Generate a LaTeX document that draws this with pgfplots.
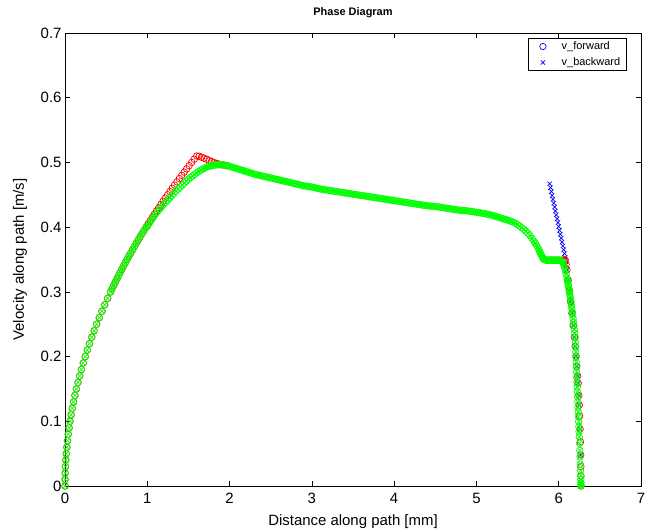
\documentclass[border=0pt]{standalone}
\usepackage{fontspec}
\setmainfont{Liberation Sans}
\usepackage{pgfplots}
\pgfplotsset{compat=1.18}
\usepackage{pgfplotstable}

\pgfplotstableread{
s v
0 0
0.0006 0.01
0.0025 0.02
0.0055 0.03
0.0099 0.04
0.0154 0.05
0.0222 0.06
0.0302 0.07
0.0394 0.08
0.0499 0.09
0.0616 0.10
0.0745 0.11
0.0887 0.12
0.1041 0.13
0.1207 0.14
0.1385 0.15
0.1576 0.16
0.1780 0.17
0.1995 0.18
0.2223 0.19
0.2463 0.20
0.2716 0.21
0.2980 0.22
0.3257 0.23
0.3547 0.24
0.3849 0.25
0.4163 0.26
0.4489 0.27
0.4828 0.28
0.5179 0.29
0.5542 0.30
0.5728 0.305
0.5918 0.31
0.6110 0.315
0.6305 0.32
0.6504 0.325
0.6706 0.33
0.6910 0.335
0.7118 0.34
0.7329 0.345
0.7543 0.35
0.7760 0.355
0.7980 0.36
0.8203 0.365
0.8430 0.37
0.8659 0.375
0.8892 0.38
0.9127 0.385
0.9366 0.39
0.9607 0.395
0.9852 0.40
}\risetab

\pgfplotstableread{
s v
1.0100 0.405
1.0351 0.41
1.0605 0.415
1.0862 0.42
1.1122 0.425
1.1386 0.43
1.1652 0.435
1.1921 0.44
1.2194 0.445
1.2469 0.45
1.2748 0.455
1.3030 0.46
1.3314 0.465
1.3602 0.47
1.3893 0.475
1.4187 0.48
1.4484 0.485
1.4784 0.49
1.5088 0.495
1.5394 0.50
1.5704 0.505
1.6016 0.51
1.63 0.5095
1.66 0.508
1.69 0.5065
1.72 0.505
1.75 0.503
1.78 0.5015
1.81 0.500
1.84 0.4985
1.87 0.4975
1.90 0.4965
1.93 0.496
1.96 0.495
5.85 0.349
5.88 0.349
5.91 0.349
5.94 0.349
5.97 0.349
6.00 0.349
6.03 0.349
6.05 0.349
6.07 0.349
6.08 0.349
6.09 0.342
6.10 0.334
6.115 0.318
6.13 0.302
6.145 0.285
6.16 0.267
6.175 0.248
6.19 0.230
6.20 0.216
6.21 0.201
6.22 0.185
6.23 0.170
6.237 0.159
6.245 0.140
6.25 0.125
6.255 0.108
6.26 0.088
6.264 0.068
6.267 0.048
6.269 0.030
6.27 0.015
6.27 0
}\redtab

\pgfplotstableread{
s v
5.89 0.467
5.90 0.461
5.91 0.455
5.92 0.449
5.93 0.443
5.94 0.437
5.95 0.431
5.96 0.425
5.97 0.419
5.98 0.413
5.99 0.407
6.00 0.401
6.01 0.395
6.02 0.389
6.03 0.383
6.04 0.377
6.05 0.371
6.06 0.365
6.07 0.359
6.08 0.353
6.09 0.342
6.10 0.334
6.115 0.318
6.13 0.302
6.145 0.285
6.16 0.267
6.175 0.248
6.19 0.230
6.20 0.216
6.21 0.201
6.22 0.185
6.23 0.170
6.237 0.159
6.245 0.140
6.25 0.125
6.26 0.088
6.267 0.048
6.27 0
}\bluetab

\pgfplotstableread{
s v
1.000 0.401
1.025 0.406
1.050 0.411
1.075 0.4155
1.100 0.420
1.125 0.424
1.150 0.428
1.175 0.4315
1.200 0.435
1.225 0.4385
1.250 0.442
1.275 0.4455
1.300 0.449
1.325 0.4525
1.350 0.456
1.375 0.459
1.400 0.462
1.425 0.465
1.450 0.468
1.475 0.471
1.500 0.474
1.525 0.4765
1.550 0.479
1.575 0.4815
1.600 0.484
1.625 0.486
1.650 0.488
1.675 0.490
1.700 0.4915
1.725 0.493
1.750 0.494
1.775 0.495
1.800 0.4955
1.825 0.496
1.850 0.4963
1.875 0.4965
1.900 0.4963
1.925 0.496
1.950 0.4955
1.975 0.495
2.000 0.494
2.025 0.493
2.050 0.492
2.075 0.491
2.100 0.490
2.125 0.489
2.150 0.488
2.175 0.487
2.200 0.486
2.225 0.485
2.250 0.484
2.275 0.483
2.300 0.482
2.325 0.481
2.350 0.4805
2.375 0.4798
2.400 0.479
2.425 0.478
2.450 0.4775
2.475 0.4768
2.500 0.476
2.525 0.4753
2.550 0.4745
2.575 0.4738
2.600 0.473
2.625 0.4723
2.650 0.4715
2.675 0.4708
2.700 0.470
2.725 0.4693
2.750 0.4685
2.775 0.4678
2.800 0.467
2.825 0.4663
2.850 0.4655
2.875 0.4648
2.900 0.464
2.925 0.4635
2.950 0.463
2.975 0.4625
3.000 0.462
3.025 0.4613
3.050 0.4605
3.075 0.4598
3.100 0.459
3.125 0.4585
3.150 0.458
3.175 0.4575
3.200 0.457
3.225 0.4565
3.250 0.456
3.275 0.4555
3.300 0.455
3.325 0.4545
3.350 0.454
3.375 0.4535
3.400 0.453
3.425 0.4525
3.450 0.452
3.475 0.4515
3.500 0.451
3.525 0.4505
3.550 0.450
3.575 0.4495
3.600 0.449
3.625 0.4485
3.650 0.448
3.675 0.4475
3.700 0.447
3.725 0.4465
3.750 0.446
3.775 0.4455
3.800 0.445
3.825 0.4445
3.850 0.444
3.875 0.4435
3.900 0.443
3.925 0.4425
3.950 0.442
3.975 0.4415
4.000 0.441
4.025 0.4405
4.050 0.440
4.075 0.4395
4.100 0.439
4.125 0.4385
4.150 0.438
4.175 0.4375
4.200 0.437
4.225 0.4365
4.250 0.436
4.275 0.4355
4.300 0.435
4.325 0.4345
4.350 0.434
4.375 0.4335
4.400 0.433
4.425 0.4328
4.450 0.4325
4.475 0.4323
4.500 0.432
4.525 0.4315
4.550 0.431
4.575 0.4305
4.600 0.430
4.625 0.4295
4.650 0.429
4.675 0.4285
4.700 0.428
4.725 0.4275
4.750 0.427
4.775 0.4265
4.800 0.426
4.825 0.4258
4.850 0.4255
4.875 0.4253
4.900 0.425
4.925 0.4245
4.950 0.424
4.975 0.4235
5.000 0.423
5.025 0.4225
5.050 0.422
5.075 0.4215
5.100 0.421
5.125 0.4203
5.150 0.4195
5.175 0.4188
5.200 0.418
5.225 0.417
5.250 0.416
5.275 0.415
5.300 0.414
5.325 0.413
5.350 0.412
5.375 0.411
5.400 0.410
5.425 0.4088
5.450 0.4075
5.475 0.4058
5.500 0.404
5.525 0.4015
5.550 0.399
5.575 0.3965
5.600 0.394
5.625 0.3905
5.650 0.387
5.675 0.3825
5.700 0.378
5.715 0.375
5.730 0.372
5.745 0.3685
5.760 0.365
5.770 0.362
5.780 0.359
5.790 0.3565
5.800 0.354
5.810 0.352
5.820 0.350
5.835 0.3495
5.850 0.349
5.865 0.349
5.880 0.349
5.895 0.349
5.910 0.349
5.925 0.349
5.940 0.349
5.955 0.349
5.970 0.349
5.985 0.349
6.000 0.349
6.015 0.3485
6.030 0.348
6.040 0.347
6.050 0.345
6.060 0.342
6.070 0.338
6.080 0.333
6.090 0.328
6.100 0.322
6.105 0.3185
6.110 0.315
6.115 0.3115
6.120 0.308
6.125 0.304
6.130 0.300
6.135 0.296
6.140 0.292
6.145 0.2875
6.150 0.283
6.155 0.2785
6.160 0.274
6.165 0.269
6.170 0.264
6.175 0.2585
6.180 0.253
6.185 0.2475
6.190 0.242
6.195 0.236
6.2000 0.230
6.2025 0.2225
6.2050 0.215
6.2075 0.207
6.2100 0.199
6.2125 0.1915
6.2150 0.184
6.2175 0.176
6.2200 0.168
6.2225 0.1605
6.2250 0.153
6.2275 0.1455
6.2300 0.138
6.2325 0.130
6.2350 0.122
6.2375 0.1145
6.2400 0.107
6.2425 0.0995
6.2450 0.092
6.2475 0.084
6.2500 0.076
6.253 0.066
6.256 0.055
6.259 0.045
6.262 0.034
6.265 0.024
6.267 0.016
6.268 0.010
6.269 0.005
6.27 0.002
6.27 0
}\greentab

\begin{document}
\begin{tikzpicture}
\begin{axis}[
  scale only axis, width=576bp, height=453bp,
  xmin=0, xmax=7, ymin=0, ymax=0.7,
  xtick={0,1,2,3,4,5,6,7},
  ytick={0,0.1,0.2,0.3,0.4,0.5,0.6,0.7},
  yticklabels={0,0.1,0.2,0.3,0.4,0.5,0.6,0.7},
  /pgf/number format/assume math mode=true,
  tick label style={font=\fontsize{15}{18}\selectfont},
  xticklabel style={yshift=-4bp},
  major tick length=5bp,
  tick style={black, line width=0.5bp},
  axis line style={line width=0.6bp},
  clip=false,
  title={Phase Diagram},
  title style={at={(axis description cs:0.5,1.0265)}, anchor=base, font=\bfseries\fontsize{11}{13}\selectfont},
  xlabel={Distance along path [mm]},
  xlabel style={at={(axis description cs:0.5,-0.0861)}, anchor=base, font=\fontsize{15}{18}\selectfont},
  ylabel={Velocity along path [m/s]},
  ylabel style={at={(axis description cs:-0.0781,0.5)}, anchor=center, font=\fontsize{15}{18}\selectfont},
  legend style={at={(axis description cs:1,1)}, anchor=north east, xshift=-14bp, yshift=-5bp,
    draw=black, line width=0.6bp, font=\fontsize{11}{13}\selectfont,
    inner xsep=5bp, inner ysep=2bp, row sep=3.5bp, nodes={inner sep=1.5bp}},
  legend cell align=left,
  legend image code/.code={\path (0bp,0bp) (26.5bp,0bp); \draw[#1] plot coordinates {(9.5bp,0bp)};},
]
\addlegendimage{only marks, mark=o, blue, mark size=3.2bp, mark options={line width=0.7bp}}
\addlegendentry{v\_forward}
\addlegendimage{only marks, mark=x, blue, mark size=3bp, mark options={line width=0.7bp}}
\addlegendentry{v\_backward}

\addplot[forget plot, only marks, mark=x, blue, mark size=3bp, mark options={line width=0.7bp}] table[x=s,y=v] {\bluetab};
\addplot[forget plot, only marks, mark=o, red, mark size=3.3bp, mark options={line width=0.7bp}] table[x=s,y=v] {\risetab};
\addplot[forget plot, only marks, mark=o, red, mark size=3.3bp, mark options={line width=0.7bp}] table[x=s,y=v] {\redtab};
\addplot[forget plot, only marks, mark=o, green, mark size=3.3bp, mark options={line width=0.7bp}] table[x=s,y=v] {\risetab};
\addplot[forget plot, only marks, mark=o, green, mark size=3.3bp, mark options={line width=0.7bp}] table[x=s,y=v] {\greentab};
\addplot[forget plot, only marks, mark=x, green, mark size=3bp, mark options={line width=0.7bp}] table[x=s,y=v] {\risetab};
\addplot[forget plot, only marks, mark=x, green, mark size=3bp, mark options={line width=0.7bp}] table[x=s,y=v] {\greentab};
\end{axis}
\path (current axis.south west) ++(-65bp,-44bp) coordinate (bbA);
\path (current axis.north east) ++(15bp,33bp) coordinate (bbB);
\useasboundingbox (bbA) rectangle (bbB);
\end{tikzpicture}
\end{document}
